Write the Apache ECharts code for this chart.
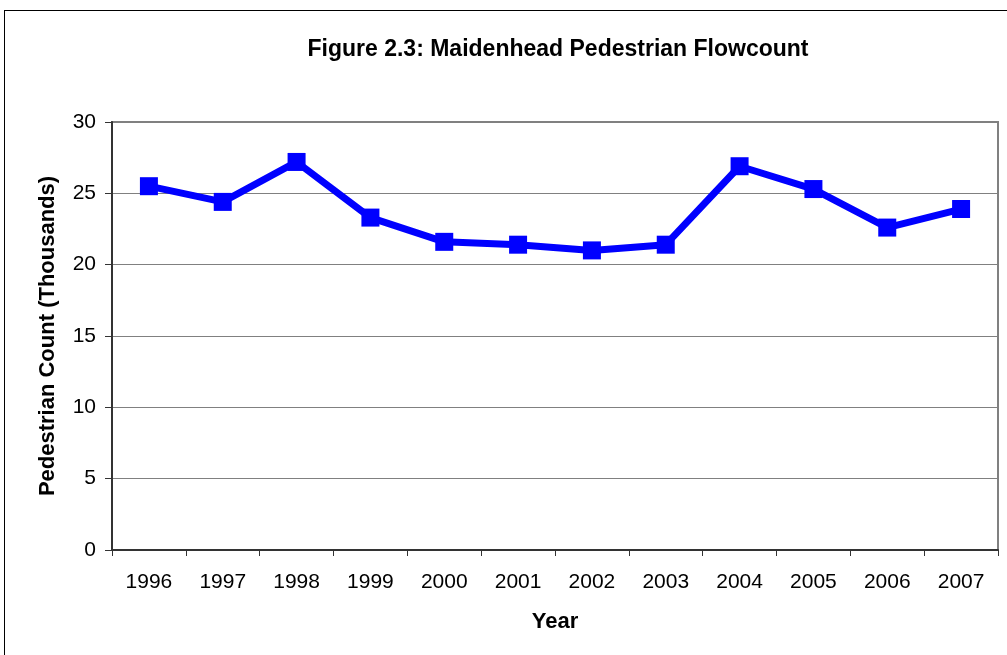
<!DOCTYPE html>
<html>
<head>
<meta charset="utf-8">
<script src="https://cdn.jsdelivr.net/npm/echarts@6/dist/echarts.min.js"></script>
<style>
  html, body { margin: 0; padding: 0; background: #fff; }
  #frame { position: absolute; left: 4px; top: 10px; width: 1010px; height: 660px; border-left: 1px solid #000; border-top: 1px solid #000; }
  #container1 { position: absolute; left: 0; top: 0; width: 1007px; height: 655px; }
</style>
</head>
<body>
<div id="frame"></div>
<div id="container1"></div>
<script>
// years and counts (thousands)
var years = ['1996', '1997', '1998', '1999', '2000', '2001', '2002', '2003', '2004', '2005', '2006', '2007'];
var counts = [25.5, 24.4, 27.2, 23.3, 21.6, 21.4, 21.0, 21.4, 26.9, 25.3, 22.6, 23.9];
var yTicks = [0, 5, 10, 15, 20, 25, 30];

var myChart = echarts.init(document.getElementById('container1'));
var font = 'Liberation Sans, Arial, sans-serif';

var option = {
    animation: false,
    title: {
        text: 'Figure 2.3: Maidenhead Pedestrian Flowcount',
        left: 553,
        textAlign: 'center',
        top: 33,
        textStyle: { fontFamily: font, fontSize: 23, fontWeight: 'bold', color: '#000' }
    },
    grid: {
        left: 112, right: 9, top: 122, bottom: 105,
        show: true, borderColor: '#808080', borderWidth: 2
    },
    xAxis: {
        type: 'category',
        data: years,
        boundaryGap: true,
        name: 'Year',
        nameLocation: 'middle',
        nameGap: 61,
        nameTextStyle: { fontFamily: font, fontSize: 22, fontWeight: 'bold', color: '#000' },
        axisLine: { lineStyle: { color: '#333', width: 2 } },
        axisTick: { show: true, length: 6, inside: false, lineStyle: { color: '#333' } },
        axisLabel: { fontFamily: font, fontSize: 21, color: '#000', margin: 22 },
        splitLine: { show: false }
    },
    yAxis: {
        type: 'value',
        min: yTicks[0],
        max: yTicks[yTicks.length - 1],
        interval: 5,
        name: 'Pedestrian Count (Thousands)',
        nameLocation: 'middle',
        nameGap: 53,
        nameTextStyle: { fontFamily: font, fontSize: 22, fontWeight: 'bold', color: '#000' },
        axisLine: { show: true, lineStyle: { color: '#333', width: 2 } },
        axisTick: { show: true, length: 7, lineStyle: { color: '#333' } },
        axisLabel: { fontFamily: font, fontSize: 21, color: '#000', margin: 16 },
        splitLine: { show: true, lineStyle: { color: '#808080', width: 1 } }
    },
    series: [{
        type: 'line',
        data: counts,
        symbol: 'rect',
        symbolSize: 18,
        lineStyle: { color: '#0000ff', width: 7 },
        itemStyle: { color: '#0000ff' }
    }]
};
myChart.setOption(option);
</script>
</body>
</html>
